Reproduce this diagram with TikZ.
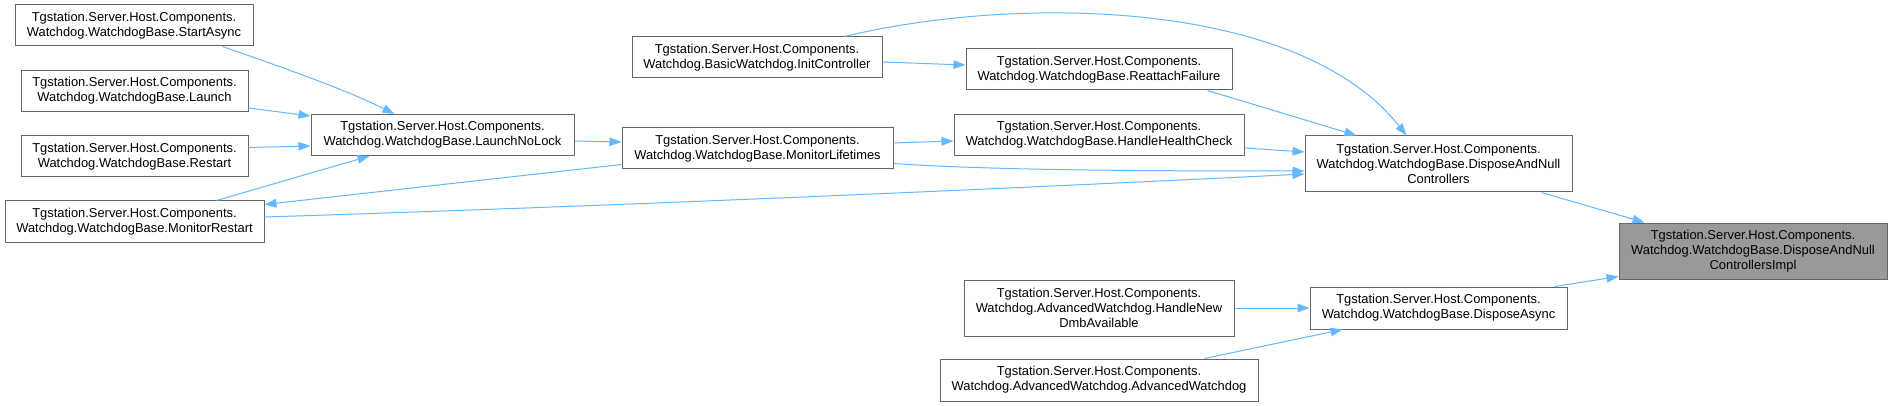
\documentclass[tikz,border=0pt]{standalone}
\usepackage{fontspec}
\setmainfont{Liberation Sans}
\usetikzlibrary{arrows.meta,calc}
\definecolor{edgeblue}{HTML}{63B8FF}
\definecolor{boxgray}{HTML}{666666}
\definecolor{rootfill}{HTML}{999999}
\begin{document}
\begin{tikzpicture}[x=1pt,y=-1pt,
  fn/.style={draw=boxgray,line width=1pt,fill=white,inner sep=0pt,align=center,
    font=\fontsize{12.9}{15}\selectfont,text=black},
  rootnode/.style={fn,fill=rootfill},
  edge/.style={draw=edgeblue,line width=1pt,-{Triangle[length=12pt,width=8.5pt]}}]
\useasboundingbox[fill=white] (0,0) rectangle (1892,406);
% nodes
\node[fn,minimum width=238pt,minimum height=41pt] (sa) at (134,25.5) {Tgstation.Server.Host.Components.\\Watchdog.WatchdogBase.StartAsync};
\node[fn,minimum width=227pt,minimum height=41pt] (la) at (134.5,91) {Tgstation.Server.Host.Components.\\Watchdog.WatchdogBase.Launch};
\node[fn,minimum width=227pt,minimum height=41pt] (re) at (134.5,156.5) {Tgstation.Server.Host.Components.\\Watchdog.WatchdogBase.Restart};
\node[fn,minimum width=259pt,minimum height=41pt] (mr) at (134.5,221.5) {Tgstation.Server.Host.Components.\\Watchdog.WatchdogBase.MonitorRestart};
\node[fn,minimum width=263pt,minimum height=41pt] (lnl) at (442.5,135) {Tgstation.Server.Host.Components.\\Watchdog.WatchdogBase.LaunchNoLock};
\node[fn,minimum width=250pt,minimum height=41pt] (ic) at (757,57.5) {Tgstation.Server.Host.Components.\\Watchdog.BasicWatchdog.InitController};
\node[fn,minimum width=271pt,minimum height=41pt] (ml) at (757.5,148.5) {Tgstation.Server.Host.Components.\\Watchdog.WatchdogBase.MonitorLifetimes};
\node[fn,minimum width=266pt,minimum height=41pt] (rf) at (1099,69.5) {Tgstation.Server.Host.Components.\\Watchdog.WatchdogBase.ReattachFailure};
\node[fn,minimum width=290pt,minimum height=41pt] (hhc) at (1099,135) {Tgstation.Server.Host.Components.\\Watchdog.WatchdogBase.HandleHealthCheck};
\node[fn,minimum width=270pt,minimum height=56pt] (hnd) at (1099,308) {Tgstation.Server.Host.Components.\\Watchdog.AdvancedWatchdog.HandleNew\\DmbAvailable};
\node[fn,minimum width=318pt,minimum height=42pt] (aw) at (1099,380) {Tgstation.Server.Host.Components.\\Watchdog.AdvancedWatchdog.AdvancedWatchdog};
\node[fn,minimum width=267pt,minimum height=56pt] (danc) at (1438.5,164) {Tgstation.Server.Host.Components.\\Watchdog.WatchdogBase.DisposeAndNull\\Controllers};
\node[fn,minimum width=257pt,minimum height=42pt] (da) at (1438.5,308) {Tgstation.Server.Host.Components.\\Watchdog.WatchdogBase.DisposeAsync};
\node[rootnode,minimum width=268pt,minimum height=56pt] (impl) at (1753,251) {Tgstation.Server.Host.Components.\\Watchdog.WatchdogBase.DisposeAndNull\\ControllersImpl};
% edges
\draw[edge] ($(sa.south west)+(208,0)$) .. controls +(60,21) and +(-50,-25) .. ($(lnl.north west)+(84,0)$);
\draw[edge] ($(la.south east)+(0,-4)$) -- ($(lnl.north west)+(0,2)$);
\draw[edge] ($(re.north east)+(0,12)$) -- ($(lnl.south west)+(0,-10)$);
\draw[edge] ($(mr.north west)+(212,0)$) -- ($(lnl.south west)+(59,0)$);
\draw[edge] ($(lnl.east)+(0,6)$) -- ($(ml.west)+(0,-6.5)$);
\draw[edge] ($(ml.south west)+(0,-5)$) -- ($(mr.north east)+(0,4)$);
\draw[edge] ($(mr.east)+(0,-4.5)$) .. controls +(347,-11) and +(-347,17) .. ($(danc.west)+(0,10)$);
\draw[edge] ($(ml.east)+(0,-5.5)$) -- ($(hhc.west)+(0,6)$);
\draw[edge] ($(ml.south east)+(0,-6)$) .. controls +(100,7) and +(-150,0) .. ($(danc.west)+(0,7)$);
\draw[edge] ($(ic.east)+(0,4.5)$) -- ($(rf.west)+(0,-4.5)$);
\draw[edge] ($(ic.north west)+(213,0)$) .. controls +(175,-42) and +(-107,-136) .. ($(danc.north west)+(102,0)$);
\draw[edge] ($(rf.south west)+(242,0)$) -- ($(danc.north west)+(52,0)$);
\draw[edge] ($(hhc.east)+(0,13)$) -- ($(danc.west)+(0,-12)$);
\draw[edge] ($(danc.south west)+(237,0)$) -- ($(impl.north west)+(26,0)$);
\draw[edge] ($(da.north east)+(-13,0)$) -- ($(impl.south west)+(0,-3)$);
\draw[edge] (hnd.east) -- (da.west);
\draw[edge] ($(aw.north west)+(265,0)$) -- ($(da.south west)+(33,0)$);
\end{tikzpicture}
\end{document}
